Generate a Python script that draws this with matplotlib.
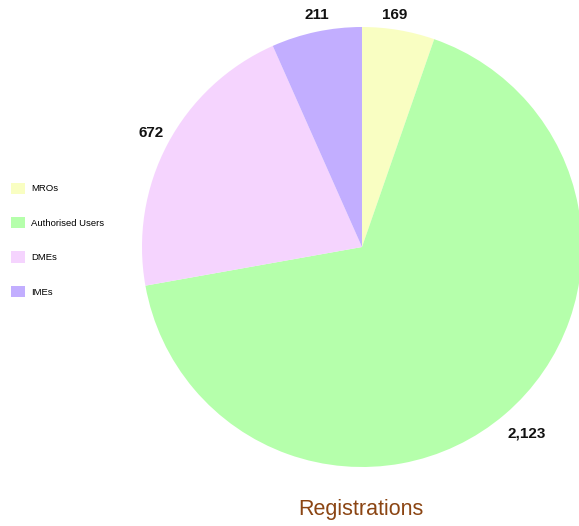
import matplotlib
matplotlib.use("Agg")
import matplotlib.pyplot as plt
import numpy as np

categories = ["MROs", "Authorised Users", "DMEs", "IMEs"]
values = [169, 2123, 672, 211]
value_labels = ["169", "2,123", "672", "211"]
colors = ["#F9FEC2", "#B5FFAB", "#F5D4FE", "#C2AEFF"]
title = "Registrations"

plt.rcParams['font.family'] = ['Liberation Sans', 'DejaVu Sans']

fig = plt.figure(figsize=(5.79, 5.26), dpi=100)
ax = fig.add_axes([142/579, (526-467)/526, 440/579, 440/526])
wedges, _ = ax.pie(values, colors=colors, startangle=90, counterclock=False,
                   radius=1.0, wedgeprops=dict(linewidth=0))
ax.set_xlim(-1, 1)
ax.set_ylim(-1, 1)
ax.set_aspect('equal')
for w in wedges:
    w.set_clip_on(False)

dists = [1.065, 1.13, 1.09, 1.075]
offsets = [1.5, 1.0, -0.5, -1.0]
for w, lab, d, off in zip(wedges, value_labels, dists, offsets):
    ang = np.deg2rad((w.theta1 + w.theta2) / 2 + off)
    ax.text(d * np.cos(ang), d * np.sin(ang), lab, ha='center', va='center',
            fontsize=11, fontweight='bold', color='#111111', clip_on=False)

leg = fig.legend(wedges, categories, loc='upper left', bbox_to_anchor=(2/579, 1 - 174/526),
                 frameon=False, fontsize=6.8, handlelength=1.5, handleheight=1.5,
                 labelspacing=2.42, handletextpad=0.7, borderpad=0.4)

fig.text(361/579, 1 - 510/526, title, ha='center', va='center', fontsize=15.5, color='#8B4513')

fig.savefig("out.png", dpi=100)
